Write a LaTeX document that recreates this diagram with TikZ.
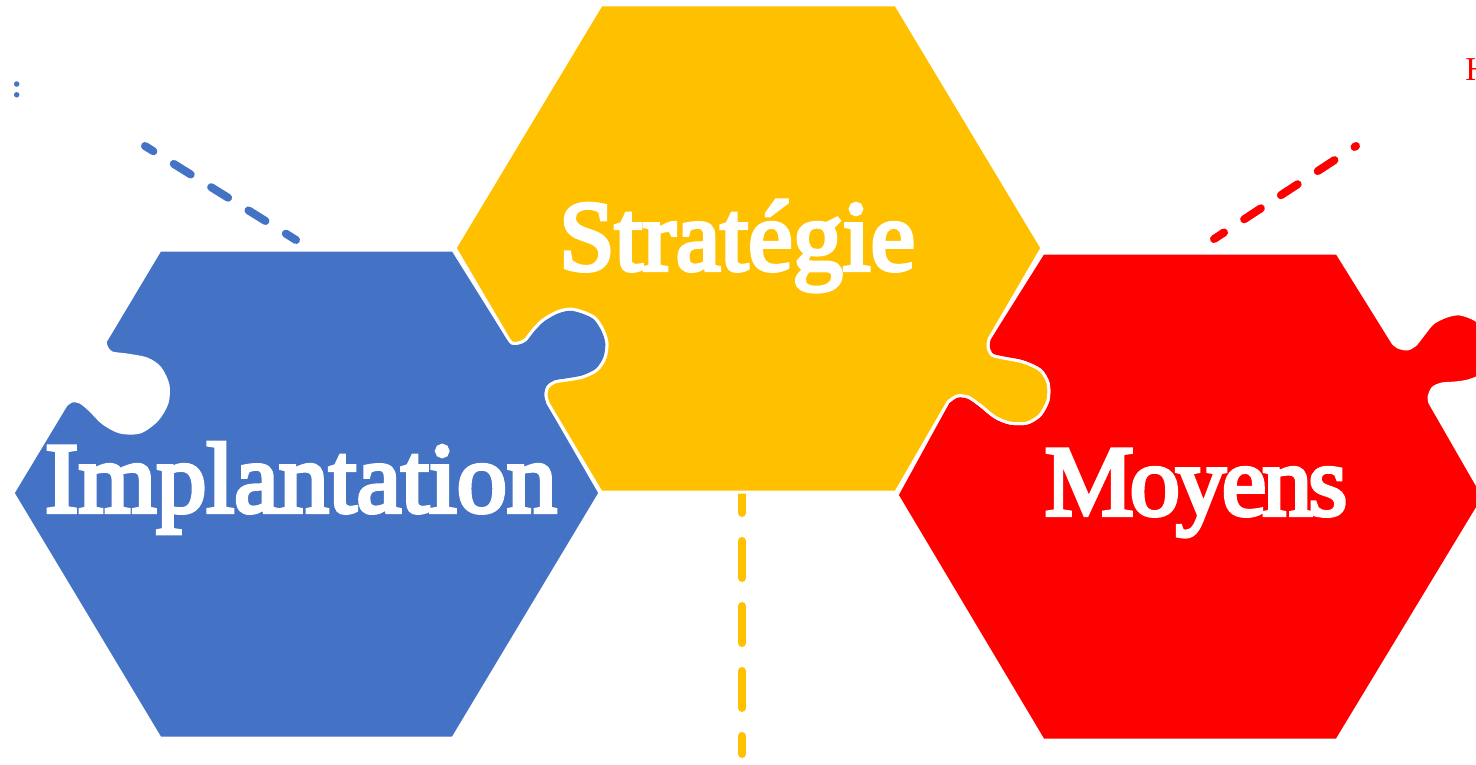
\documentclass[tikz,border=0pt]{standalone}
\usepackage{fontspec}
\setmainfont{Liberation Serif}
\newfontfamily\piecefont[FakeBold=4]{Liberation Serif}
\newfontfamily\tightfont[FakeBold=4, LetterSpace=-4]{Liberation Serif}
\definecolor{pieceblue}{HTML}{4472C4}
\definecolor{pieceyellow}{HTML}{FFC000}
\definecolor{piecered}{HTML}{FF0000}

\begin{document}
\begin{tikzpicture}[x=0.02cm, y=-0.02cm,
        piece/.style={draw=white, line width=0.06cm, line join=round},
        link/.style={line width=0.16cm, line cap=round, dash pattern=on 0.4cm off 0.48cm, dash phase=0.16cm},
        title/.style={text=white, font=\piecefont\fontsize{57}{62}\selectfont, inner sep=0pt, anchor=base}
    ]
    \useasboundingbox (0,0) rectangle (1476,764);
    \clip (0,0) rectangle (1476,764);

    % dashed links
    \coordinate (blueport) at (296,240);
    \coordinate (bluetip) at (145,146);
    \coordinate (redport) at (1214,239);
    \coordinate (redtip) at (1356,146);
    \coordinate (yellowport) at (742,476);
    \coordinate (yellowtip) at (742,754);
    \draw[link, pieceblue] (blueport) -- (bluetip);
    \draw[link, piecered] (redport) -- (redtip);
    \draw[link, pieceyellow, dash pattern=on 0.74cm off 0.56cm, dash phase=0cm] (yellowport) -- (yellowtip);

    % blue piece
    \path[piece, fill=pieceblue] (160,250) -- (453,250)
        -- plot[smooth] coordinates {(508,338) (512,343) (518,343) (525,340) (533,330) (543,320) (557,312) (570,309) (583,312) (595,318) (603,330) (607,343) (605,358) (597,370) (583,377) (567,380) (555,382) (548,387) (546,395) (548,403)}
        -- (600,493) -- (453,738) -- (160,738) -- (13,493)
        -- plot[smooth] coordinates {(66,405) (72,401) (80,402) (90,410) (103,423) (120,432) (140,432) (157,420) (167,403) (168,385) (160,368) (147,359) (127,355) (112,353) (107,348) (105,342)}
        -- cycle;

    % red piece
    \path[piece, fill=piecered] (1043,253) -- (1337,253)
        -- plot[smooth] coordinates {(1393,343) (1398,347) (1407,349) (1415,345) (1423,335) (1433,323) (1447,316) (1460,314) (1476,320) (1488,333) (1492,348) (1490,363) (1482,375) (1468,381) (1455,383) (1442,384) (1433,388) (1429,397) (1430,403)}
        -- (1484,497) -- (1337,740) -- (1043,740) -- (897,495)
        -- plot[smooth] coordinates {(948,402) (957,396) (968,397) (980,405) (995,417) (1010,423) (1027,423) (1040,415) (1048,400) (1048,383) (1040,370) (1023,362) (1003,358) (992,355) (988,347) (989,339)}
        -- cycle;

    % yellow piece
    \path[piece, fill=pieceyellow] (601,5) -- (896,5) -- (1042,248)
        -- plot[smooth] coordinates {(989,339) (988,347) (992,355) (1003,358) (1023,362) (1040,370) (1048,383) (1048,400) (1040,415) (1027,423) (1010,423) (995,417) (980,405) (968,397) (957,396) (948,402)}
        -- (896,492) -- (601,492)
        -- plot[smooth] coordinates {(548,403) (546,395) (548,387) (555,382) (567,380) (583,377) (597,370) (605,358) (607,343) (603,330) (595,318) (583,312) (570,309) (557,312) (543,320) (533,330) (525,340) (518,343) (512,343) (508,338)}
        -- (455,248) -- cycle;

    % labels
    \node[title] (impl) at (301,512) {Implantation};
    \node[title] (strat) at (737,270) {Stratégie};
    \node[title, font=\tightfont\fontsize{57}{62}\selectfont] (moy) at (1196,515) {Moyens};
    \node[text=pieceblue, font=\bfseries\fontsize{19}{22}\selectfont, inner sep=0pt, anchor=base] (note) at (17,97) {:};
    \node[text=piecered, font=\fontsize{19}{22}\selectfont, inner sep=0pt, anchor=base west] (hint) at (1465,80) {H};
\end{tikzpicture}
\end{document}
